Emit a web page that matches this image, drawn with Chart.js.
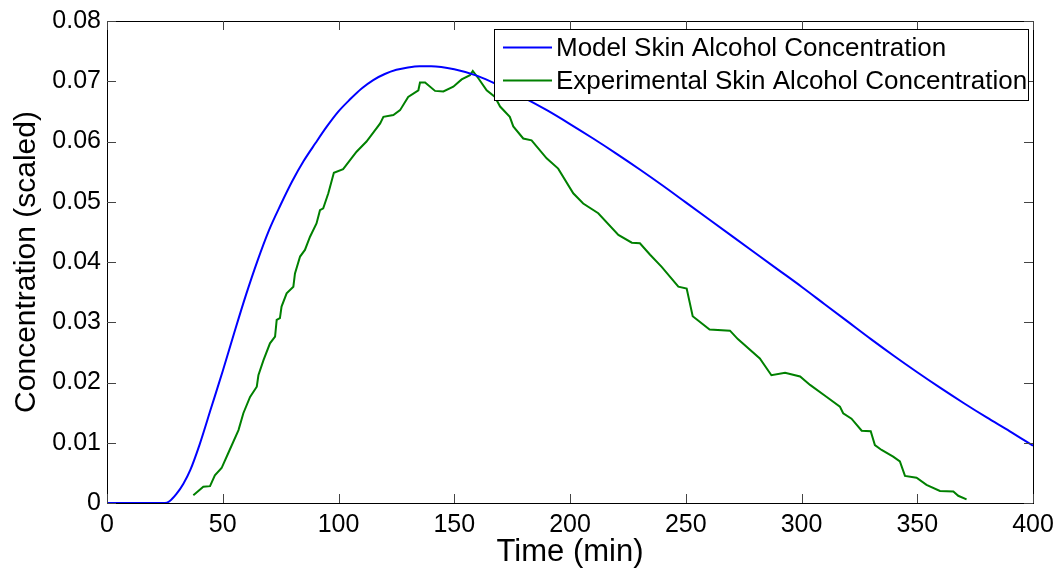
<!DOCTYPE html>
<html>
<head>
<meta charset="utf-8">
<script src="https://cdn.jsdelivr.net/npm/chart.js@4.4.1/dist/chart.umd.min.js"></script>
<style>
  body { margin: 0; background: #fff; }
  #wrap { width: 1063px; height: 571px; position: relative; }
</style>
</head>
<body>
<div id="wrap"><canvas id="chart"></canvas></div>
<script>
// model curve (time in min, scaled concentration)
const modelTime = [0, 10, 20, 25, 27, 30, 33, 36, 40, 45, 50, 55, 60, 65, 70, 75, 80, 85, 90, 95,
  100, 105, 110, 115, 120, 125, 130, 135, 140, 150, 160, 170, 180, 190, 200, 210, 220, 230, 240, 250,
  260, 270, 280, 290, 300, 310, 320, 330, 340, 350, 360, 370, 380, 390, 400];
const modelConc = [0, 0, 0, 0, 0.0003, 0.0015, 0.0032, 0.0055, 0.0097, 0.0158, 0.0219, 0.0283, 0.0345, 0.0402, 0.0453, 0.0495, 0.0534, 0.0568, 0.0597, 0.0625,
  0.0650, 0.0670, 0.0688, 0.0702, 0.0712, 0.0719, 0.0723, 0.0725, 0.0725, 0.0720, 0.0709, 0.0692, 0.0673, 0.0652, 0.0629, 0.0605, 0.0580, 0.0554, 0.0527, 0.0499,
  0.0471, 0.0443, 0.0415, 0.0387, 0.0359, 0.0330, 0.0301, 0.0272, 0.0244, 0.0217, 0.0191, 0.0166, 0.0142, 0.0119, 0.0095];

// experimental measurements
const expTime = [37.3, 41.6, 44.5, 46.6, 49.5, 52.4, 56.8, 58.9, 61.8, 64.7, 65.4, 67.6, 70.4, 72.6, 73.3, 74.7, 75.4, 77.6, 80.5, 81.2,
  83.4, 85.5, 87.7, 90.5, 92, 93.4, 95.6, 98, 102, 107.8, 112.1, 118, 119.4, 123.7, 126.6, 130.1, 134.5, 135.2, 137.4, 141.7,
  145.3, 149.6, 153.2, 156.8, 158, 160.4, 164, 167.6, 169.8, 174, 175.5, 179.8, 183.4, 189.9, 194.9, 201.4, 205.7, 212.2, 220.9, 226.7,
  230.2, 234.6, 239.6, 246.8, 250.4, 253, 260.3, 269.1, 272.5, 282, 287, 292.9, 299.4, 303.7, 310.9, 316.6, 318, 321.6, 326, 329.9,
  331.7, 334.6, 339.6, 342.5, 344.7, 349.7, 354, 359.8, 365.6, 367.7, 371.3];
const expConc = [0.0013, 0.0027, 0.0028, 0.0046, 0.0058, 0.0083, 0.0121, 0.0149, 0.0176, 0.0193, 0.0212, 0.0237, 0.0265, 0.0276, 0.0304, 0.0307, 0.0326, 0.0348, 0.0359, 0.0381,
  0.0409, 0.0420, 0.0442, 0.0464, 0.0486, 0.0489, 0.0514, 0.0548, 0.0554, 0.0583, 0.0600, 0.0630, 0.0641, 0.0644, 0.0652, 0.0674, 0.0685, 0.0698, 0.0698, 0.0684,
  0.0683, 0.0691, 0.0703, 0.0710, 0.0717, 0.0705, 0.0685, 0.0674, 0.0658, 0.0641, 0.0625, 0.0605, 0.0602, 0.0572, 0.0555, 0.0514, 0.0497, 0.0481, 0.0445, 0.0432,
  0.0431, 0.0412, 0.0392, 0.0359, 0.0356, 0.0310, 0.0288, 0.0286, 0.0272, 0.0240, 0.0212, 0.0216, 0.0210, 0.0196, 0.0176, 0.0160, 0.0149, 0.0140, 0.0120, 0.0119,
  0.0096, 0.0088, 0.0077, 0.0069, 0.0045, 0.0042, 0.0030, 0.0020, 0.0019, 0.0012, 0.0006];

const seriesNames = ['Model Skin Alcohol Concentration', 'Experimental Skin Alcohol Concentration'];
const xTitle = 'Time (min)';
const yTitle = 'Concentration (scaled)';

const fontFam = '"Liberation Sans", Arial, Helvetica, sans-serif';

// box around the axes, inward ticks and the boxed legend (matlab look)
const matlabFrame = {
  id: 'matlabFrame',
  afterDatasetsDraw(chart) {
    const {ctx, chartArea: a, scales} = chart;
    ctx.save();
    ctx.strokeStyle = '#000';
    ctx.lineWidth = 1;
    ctx.strokeRect(Math.round(a.left) + 0.5, Math.round(a.top) + 0.5, Math.round(a.right - a.left), Math.round(a.bottom - a.top));

    ctx.strokeStyle = '#444';
    const tl = 9;
    ctx.beginPath();
    scales.x.ticks.forEach(t => {
      const px = Math.round(scales.x.getPixelForValue(t.value)) + 0.5;
      ctx.moveTo(px, a.bottom); ctx.lineTo(px, a.bottom - tl);
      ctx.moveTo(px, a.top); ctx.lineTo(px, a.top + tl);
    });
    scales.y.ticks.forEach(t => {
      const py = Math.round(scales.y.getPixelForValue(t.value)) + 0.5;
      ctx.moveTo(a.left, py); ctx.lineTo(a.left + tl, py);
      ctx.moveTo(a.right, py); ctx.lineTo(a.right - tl, py);
    });
    ctx.stroke();

    // legend
    const lx = 494.5, ly = 29.5, lw = 534, lh = 71;
    ctx.fillStyle = '#fff';
    ctx.fillRect(lx, ly, lw, lh);
    ctx.strokeStyle = '#000';
    ctx.strokeRect(lx, ly, lw, lh);
    ctx.font = '26px ' + fontFam;
    ctx.textBaseline = 'middle';
    ctx.textAlign = 'left';
    chart.data.datasets.forEach((ds, i) => {
      const y = i === 0 ? 47.5 : 80.5;
      ctx.strokeStyle = ds.borderColor;
      ctx.lineWidth = 2;
      ctx.beginPath();
      ctx.moveTo(503, y); ctx.lineTo(552, y);
      ctx.stroke();
      ctx.fillStyle = '#000';
      ctx.fillText(ds.label, 556, y + 1);
    });
    ctx.restore();
  }
};

new Chart(document.getElementById('chart'), {
  type: 'scatter',
  data: {
    datasets: [{
      label: seriesNames[0],
      data: modelTime.map((t, i) => ({x: t, y: modelConc[i]})),
      showLine: true,
      borderColor: '#0000ff',
      borderWidth: 2,
      pointRadius: 0,
      cubicInterpolationMode: 'monotone'
    },
    {
      label: seriesNames[1],
      data: expTime.map((t, i) => ({x: t, y: expConc[i]})),
      showLine: true,
      borderColor: '#008000',
      borderWidth: 2,
      pointRadius: 0,
      tension: 0
    }]
  },
  options: {
    responsive: true,
    maintainAspectRatio: false,
    animation: false,
    layout: { padding: { top: 21, right: 30, left: 0, bottom: 0 } },
    plugins: {
      legend: { display: false },
      tooltip: { enabled: false }
    },
    scales: {
      x: {
        type: 'linear',
        min: 0, max: 400,
        afterFit: s => { s.height = 68; },
        grid: { display: false },
        border: { display: false },
        ticks: {
          stepSize: 50, autoSkip: false, maxRotation: 0, padding: -1,
          color: '#000', font: { family: fontFam, size: 25 }
        },
        title: {
          display: true, text: xTitle, color: '#000',
          font: { family: fontFam, size: 31 }, padding: { top: 0, bottom: 0 }
        }
      },
      y: {
        min: 0, max: 0.08,
        afterFit: s => { s.width = 107; },
        grid: { display: false },
        border: { display: false },
        ticks: {
          stepSize: 0.01, autoSkip: false, padding: -2,
          color: '#000', font: { family: fontFam, size: 25 },
          callback: v => v === 0 ? '0' : v.toFixed(2)
        },
        title: {
          display: true, text: yTitle, color: '#000',
          font: { family: fontFam, size: 30 }, padding: { top: 9, bottom: 0 }
        }
      }
    }
  },
  plugins: [matlabFrame]
});
</script>
</body>
</html>
